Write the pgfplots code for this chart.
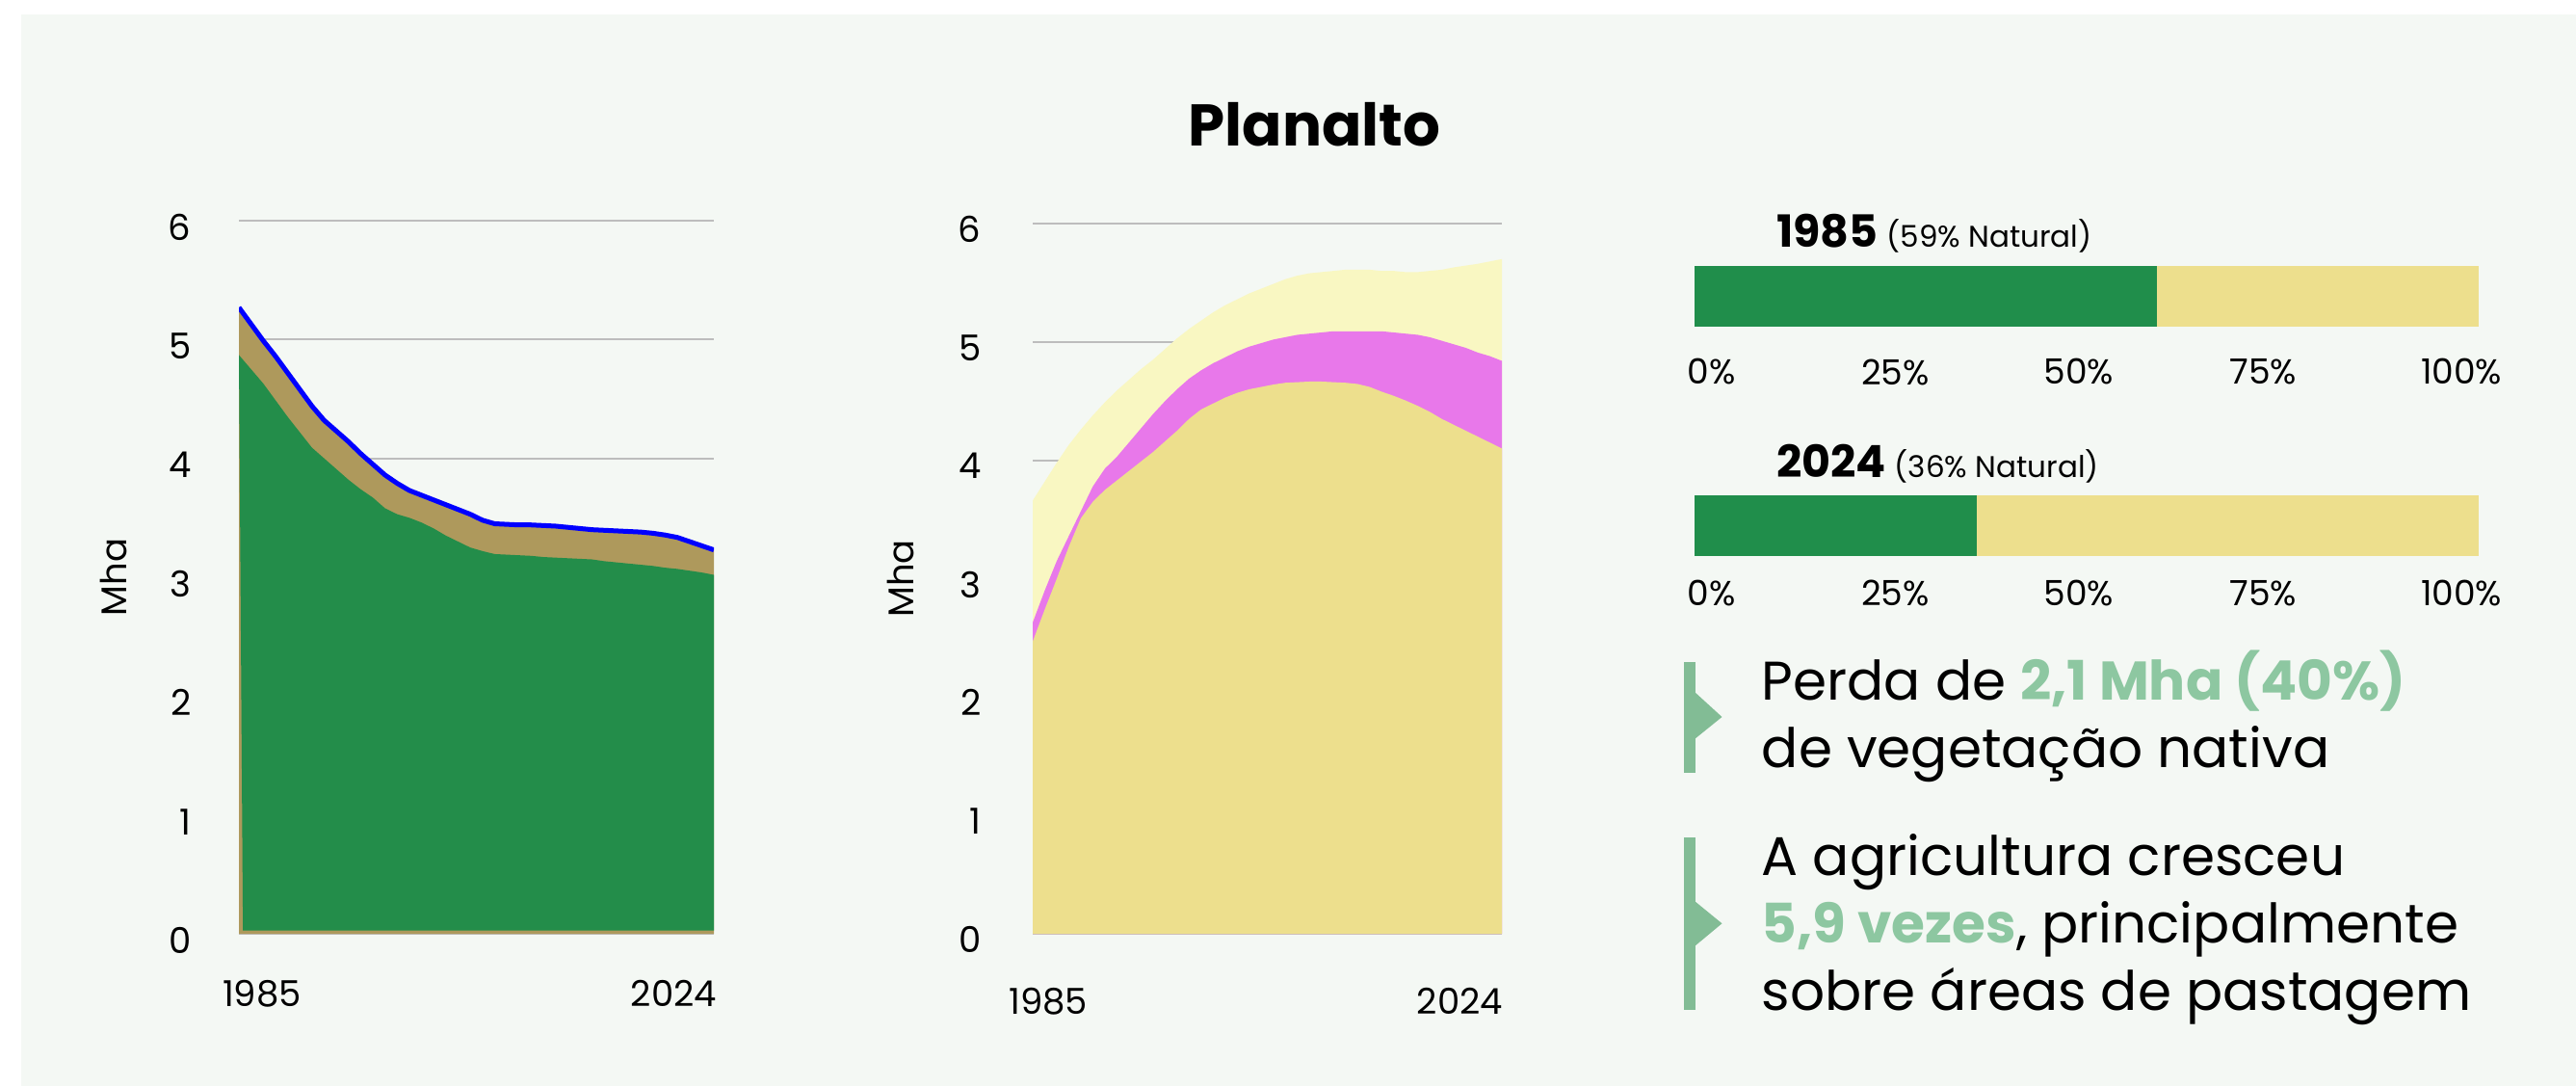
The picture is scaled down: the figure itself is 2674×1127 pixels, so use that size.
\documentclass[border=0pt]{standalone}
\usepackage{fontspec}
\setmainfont{Poppins}
\usepackage{pgfplots}
\usepackage{pgfplotstable}
\pgfplotsset{compat=1.18}
\definecolor{bgc}{HTML}{F4F8F4}
\definecolor{brownc}{HTML}{AE995C}
\definecolor{greenc}{HTML}{238D4A}
\definecolor{bluec}{HTML}{0000FF}
\definecolor{lightyel}{HTML}{F9F7C2}
\definecolor{pinkc}{HTML}{E878EA}
\definecolor{yelc}{HTML}{EDDF8D}
\definecolor{bargreen}{HTML}{208E4B}
\definecolor{hlc}{HTML}{8DC7A1}
\definecolor{markc}{HTML}{82BC95}
\definecolor{gridc}{HTML}{BDBDBD}

% Left chart: total natural (blue line) and forest (green)
\pgfplotstableread{
year total natural
1985 5.27 4.87
1986 5.13 4.75
1987 4.99 4.63
1988 4.86 4.49
1989 4.72 4.35
1990 4.58 4.22
1991 4.44 4.09
1992 4.32 4.00
1993 4.23 3.91
1994 4.14 3.82
1995 4.04 3.74
1996 3.95 3.67
1997 3.86 3.58
1998 3.79 3.53
1999 3.73 3.50
2000 3.69 3.46
2001 3.65 3.41
2002 3.61 3.35
2003 3.57 3.30
2004 3.53 3.25
2005 3.48 3.22
2006 3.45 3.195
2007 3.445 3.19
2008 3.44 3.185
2009 3.44 3.18
2010 3.435 3.17
2011 3.43 3.165
2012 3.42 3.16
2013 3.41 3.155
2014 3.40 3.15
2015 3.395 3.135
2016 3.39 3.125
2017 3.385 3.115
2018 3.38 3.105
2019 3.37 3.095
2020 3.355 3.08
2021 3.335 3.07
2022 3.30 3.055
2023 3.265 3.04
2024 3.23 3.02
}\leftdata

% Middle chart: stacked tops (pasture, +agriculture, +other)
\pgfplotstableread{
year pasture agri total
1985 2.47 2.63 3.66
1986 2.74 2.90 3.82
1987 3.00 3.15 3.98
1988 3.27 3.36 4.13
1989 3.51 3.57 4.26
1990 3.65 3.78 4.38
1991 3.75 3.93 4.49
1992 3.83 4.03 4.59
1993 3.91 4.15 4.68
1994 3.99 4.27 4.77
1995 4.07 4.39 4.85
1996 4.16 4.50 4.94
1997 4.25 4.60 5.03
1998 4.35 4.69 5.11
1999 4.43 4.76 5.18
2000 4.48 4.82 5.25
2001 4.53 4.87 5.31
2002 4.57 4.92 5.36
2003 4.60 4.96 5.41
2004 4.62 4.99 5.45
2005 4.64 5.02 5.49
2006 4.655 5.04 5.53
2007 4.66 5.06 5.56
2008 4.665 5.07 5.58
2009 4.665 5.08 5.59
2010 4.66 5.09 5.60
2011 4.655 5.09 5.61
2012 4.645 5.09 5.61
2013 4.62 5.09 5.61
2014 4.58 5.09 5.60
2015 4.545 5.08 5.60
2016 4.505 5.07 5.59
2017 4.46 5.06 5.59
2018 4.41 5.04 5.60
2019 4.35 5.01 5.61
2020 4.30 4.98 5.63
2021 4.25 4.95 5.645
2022 4.20 4.91 5.66
2023 4.15 4.88 5.68
2024 4.10 4.84 5.70
}\middata

\pgfplotsset{
  lineaxis/.style={
    anchor=south west, scale only axis,
    xmin=1985, xmax=2024, ymin=0, ymax=6,
    axis line style={draw=none}, major tick length=0pt,
    ytick={0,1,2,3,4,5,6}, ymajorgrids,
    grid style={draw=gridc, line width=2pt},
    ticklabel style={font=\fontsize{37}{37}\selectfont},
    /pgf/number format/assume math mode=true,
    ylabel={Mha},
  },
  baraxis/.style={
    anchor=south west, scale only axis,
    width=814pt, height=63pt,
    xmin=0, xmax=100, ymin=0, ymax=2,
    xbar stacked, bar width=63pt,
    axis line style={draw=none}, major tick length=0pt,
    ytick=\empty,
    xtick={2.2,25.6,49.0,72.5,97.8},
    xticklabels={0\%,25\%,50\%,75\%,100\%},
    ticklabel style={font=\fontsize{36}{36}\selectfont},
  },
}

\begin{document}
\begin{tikzpicture}
\useasboundingbox (0pt,0pt) rectangle (2674pt,-1127pt);
\fill[white] (0pt,0pt) rectangle (2674pt,-1127pt);
\fill[bgc] (22pt,-15pt) rectangle (2674pt,-1127pt);

% Title
\node[anchor=base, font=\bfseries\fontsize{61}{61}\selectfont] at (1364.5pt,-151.7pt) {Planalto};

% Left chart
\begin{axis}[lineaxis,
  at={(248pt,-969pt)}, width=493pt, height=740pt,
  xtick={1986.9,2020.7}, xticklabels={1985,2024},
  yticklabel style={xshift=-46pt, yshift=-7pt},
  xticklabel style={yshift=-45pt},
  every axis y label/.style={at={(axis description cs:-0.2637,0.5)}, anchor=center, rotate=90, font=\fontsize{37}{37}\selectfont},
]
\addplot[fill=brownc, draw=none] table[x=year, y=total] {\leftdata} \closedcycle;
\addplot[fill=greenc, draw=none] coordinates {
(1985,4.87) (1986,4.75) (1987,4.63) (1988,4.49) (1989,4.35) (1990,4.22)
(1991,4.09) (1992,4.00) (1993,3.91) (1994,3.82) (1995,3.74) (1996,3.67)
(1997,3.58) (1998,3.53) (1999,3.50) (2000,3.46) (2001,3.41) (2002,3.35)
(2003,3.30) (2004,3.25) (2005,3.22) (2006,3.195) (2007,3.19) (2008,3.185)
(2009,3.18) (2010,3.17) (2011,3.165) (2012,3.16) (2013,3.155) (2014,3.15)
(2015,3.135) (2016,3.125) (2017,3.115) (2018,3.105) (2019,3.095) (2020,3.08)
(2021,3.07) (2022,3.055) (2023,3.04) (2024,3.02)
(2024,0.027) (1985.33,0.027)};
\addplot[bluec, line width=5pt, line join=round] table[x=year, y=total] {\leftdata};
\end{axis}

% Middle chart
\begin{axis}[lineaxis,
  at={(1072pt,-969pt)}, width=487pt, height=737pt,
  xtick={1986.3,2020.5}, xticklabels={1985,2024},
  yticklabel style={xshift=-50pt, yshift=-6pt},
  xticklabel style={yshift=-53pt},
  every axis y label/.style={at={(axis description cs:-0.2813,0.5)}, anchor=center, rotate=90, font=\fontsize{37}{37}\selectfont},
]
\addplot[fill=lightyel, draw=none] table[x=year, y=total] {\middata} \closedcycle;
\addplot[fill=pinkc, draw=none] table[x=year, y=agri] {\middata} \closedcycle;
\addplot[fill=yelc, draw=none] table[x=year, y=pasture] {\middata} \closedcycle;
\end{axis}

% Bars
\node[anchor=base west, inner sep=0pt] at (1844pt,-256.7pt) {{\bfseries\fontsize{46}{46}\selectfont 1985}\hspace{9pt}{\fontsize{31}{31}\selectfont (59\% Natural)}};
\begin{axis}[baraxis, at={(1759pt,-339pt)}, xticklabel style={yshift=-30pt}]
\addplot[fill=bargreen, draw=none] coordinates {(59,1)};
\addplot[fill=yelc, draw=none] coordinates {(41,1)};
\end{axis}

\node[anchor=base west, inner sep=0pt] at (1844pt,-495pt) {{\bfseries\fontsize{46}{46}\selectfont 2024}\hspace{9pt}{\fontsize{31}{31}\selectfont (36\% Natural)}};
\begin{axis}[baraxis, at={(1759pt,-576.7pt)}, xticklabel style={yshift=-22pt}]
\addplot[fill=bargreen, draw=none] coordinates {(36,1)};
\addplot[fill=yelc, draw=none] coordinates {(64,1)};
\end{axis}

% Markers
\fill[markc] (1748.3pt,-686.7pt) rectangle (1760pt,-801.7pt);
\fill[markc] (1759pt,-718pt) -- (1787.5pt,-744pt) -- (1759pt,-767pt) -- cycle;
\fill[markc] (1748.3pt,-869pt) rectangle (1760pt,-1048.3pt);
\fill[markc] (1759pt,-935pt) -- (1787.5pt,-958.3pt) -- (1759pt,-982pt) -- cycle;

% Text
\begin{scope}[every node/.style={anchor=base west, inner sep=0pt, font=\fontsize{56.5}{56.5}\selectfont}]
\node at (1828.6pt,-726.7pt) {Perda de {\color{hlc}\bfseries 2,1 Mha (40\%)}};
\node at (1828.6pt,-796.7pt) {de vegetação nativa};
\node at (1828.6pt,-908.3pt) {A agricultura cresceu};
\node at (1828.6pt,-978.3pt) {{\color{hlc}\bfseries 5,9 vezes}, principalmente};
\node at (1828.6pt,-1048.3pt) {sobre áreas de pastagem};
\end{scope}
\end{tikzpicture}
\end{document}
